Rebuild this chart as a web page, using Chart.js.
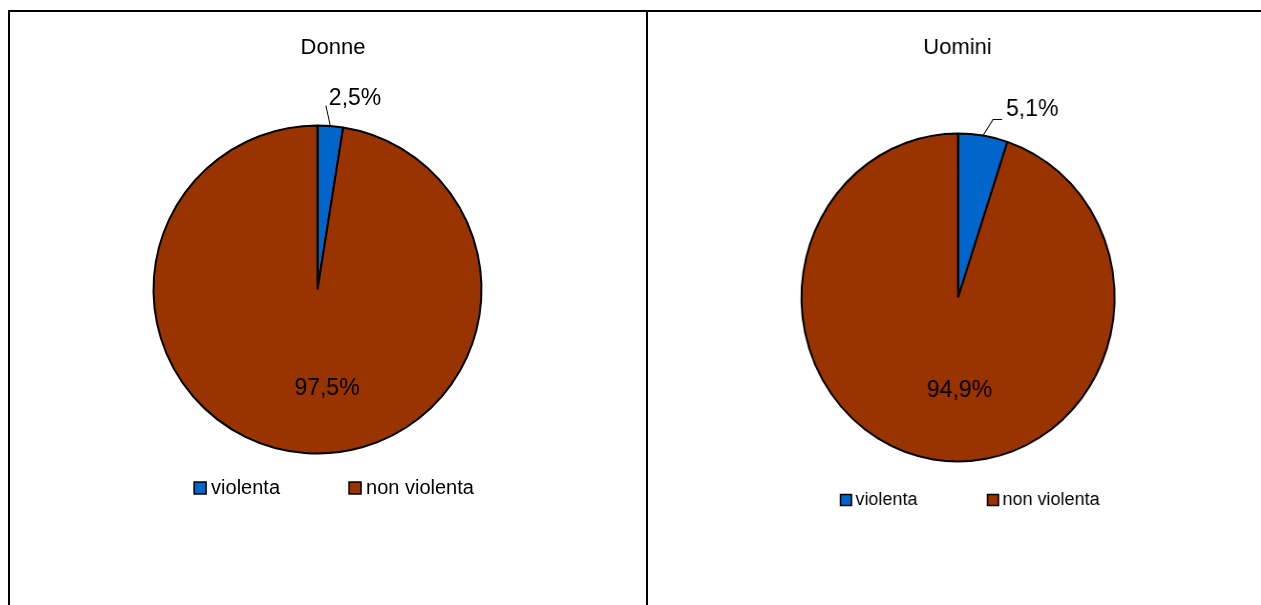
<!DOCTYPE html>
<html>
<head>
<meta charset="utf-8">
<title>Donne / Uomini</title>
<script src="https://cdn.jsdelivr.net/npm/chart.js@4"></script>
<style>
  html, body { margin: 0; padding: 0; background: #fff; }
  #page { position: relative; width: 1261px; height: 605px; overflow: hidden; }
  .rule { position: absolute; background: #000; }
  .cell { position: absolute; }
  canvas { display: block; }
</style>
</head>
<body>
<div id="page">
  <div class="rule" style="left:8px;top:10px;width:1253px;height:2px"></div>
  <div class="rule" style="left:8px;top:10px;width:2px;height:595px"></div>
  <div class="rule" style="left:646px;top:10px;width:2px;height:595px"></div>
  <div class="cell" style="left:10px;top:12px"><canvas id="chartDonne" width="636" height="593"></canvas></div>
  <!-- torta degli uomini leggermente schiacciata in orizzontale -->
  <div class="cell" style="left:648px;top:12px"><canvas id="chartUomini" width="642" height="593" style="width:613px;height:593px"></canvas></div>
</div>
<script>
const categorie = ['violenta', 'non violenta'];
const donne = [2.5, 97.5];
const uomini = [5.1, 94.9];
const colori = ['#0066CC', '#993300'];

const FONT = '"Liberation Sans", Arial, sans-serif';

// percentuale con la virgola decimale
function pct(v) {
    return v.toFixed(1).replace('.', ',') + '%';
}

// titolo, etichette e legenda disegnati sopra la torta
// (coordinate in pixel CSS: sx compensa lo schiacciamento del canvas)
const testiTorta = {
    id: 'testiTorta',
    afterDraw(chart, args, opts) {
        const ctx = chart.ctx;
        const sx = opts.sx || 1;
        const meta = chart.getDatasetMeta(0);
        const values = chart.data.datasets[0].data;
        const first = meta.data[0];
        const cx = first.x * sx, cy = first.y, r = first.outerRadius;

        ctx.save();
        ctx.scale(1 / sx, 1);
        ctx.fillStyle = '#000';
        ctx.strokeStyle = '#000';
        ctx.textBaseline = 'middle';

        // titolo
        ctx.font = opts.titleSize + 'px ' + FONT;
        ctx.textAlign = 'center';
        ctx.fillText(opts.title, opts.titleX, opts.titleY);

        // etichette dei valori
        ctx.font = opts.labelSize + 'px ' + FONT;
        meta.data.forEach((arc, i) => {
            const p = opts.labels[i];
            const text = pct(values[i]);
            if (p.inside) {
                ctx.textAlign = 'center';
                ctx.fillText(text, cx + p.dx, cy + p.dy);
                return;
            }
            const mid = (arc.startAngle + arc.endAngle) / 2;
            const ax = cx + Math.cos(mid) * r * sx;
            const ay = cy + Math.sin(mid) * r;
            ctx.lineWidth = 1;
            ctx.beginPath();
            ctx.moveTo(ax, ay);
            p.leader.forEach(([lx, ly]) => ctx.lineTo(ax + lx, ay + ly));
            ctx.stroke();
            ctx.textAlign = 'left';
            ctx.fillText(text, ax + p.tx, ay + p.ty);
        });

        // legenda
        const lg = opts.legend;
        const colors = chart.data.datasets[0].backgroundColor;
        const labels = chart.data.labels;
        ctx.font = lg.size + 'px ' + FONT;
        const widths = labels.map(l => ctx.measureText(l).width);
        const total = widths.reduce((s, w) => s + lg.box + lg.textGap + w, 0) + lg.gap * (labels.length - 1);
        let lx = lg.cx - total / 2;
        labels.forEach((l, i) => {
            ctx.fillStyle = colors[i];
            ctx.fillRect(lx, lg.cy - lg.box / 2, lg.box, lg.box);
            ctx.lineWidth = 1.5;
            ctx.strokeRect(lx, lg.cy - lg.box / 2, lg.box, lg.box);
            ctx.fillStyle = '#000';
            ctx.textAlign = 'left';
            ctx.fillText(l, lx + lg.box + lg.textGap, lg.cy);
            lx += lg.box + lg.textGap + widths[i] + lg.gap;
        });
        ctx.restore();
    }
};

function torta(id, valori, padding, testi) {
    return new Chart(document.getElementById(id), {
        type: 'pie',
        data: {
            labels: categorie,
            datasets: [{
                data: valori,
                backgroundColor: colori,
                borderColor: '#000',
                borderWidth: 2
            }]
        },
        options: {
            responsive: false,
            animation: false,
            layout: { padding: padding },
            plugins: {
                legend: { display: false },
                tooltip: { enabled: false },
                testiTorta: testi
            }
        },
        plugins: [testiTorta]
    });
}

torta('chartDonne', donne,
    { left: 142.5, top: 112.5, right: 163.5, bottom: 150.5 },
    {
        title: 'Donne', titleX: 323, titleY: 36, titleSize: 22,
        labelSize: 23,
        labels: [
            { leader: [[-4.5, -20.5]], tx: -1.5, ty: -27.5 },
            { inside: true, dx: 9.5, dy: 99 }
        ],
        legend: { cx: 324, cy: 476, size: 20, box: 12, textGap: 5, gap: 69 }
    });

torta('chartUomini', uomini,
    { left: 159.7, top: 120.5, right: 152.3, bottom: 142.5 },
    {
        sx: 613 / 642,
        title: 'Uomini', titleX: 309.5, titleY: 36, titleSize: 22,
        labelSize: 23,
        labels: [
            { leader: [[10, -16], [19, -16]], tx: 23, ty: -25.5 },
            { inside: true, dx: 1.5, dy: 93 }
        ],
        legend: { cx: 322, cy: 488, size: 18, box: 11, textGap: 4, gap: 70 }
    });
</script>
</body>
</html>
